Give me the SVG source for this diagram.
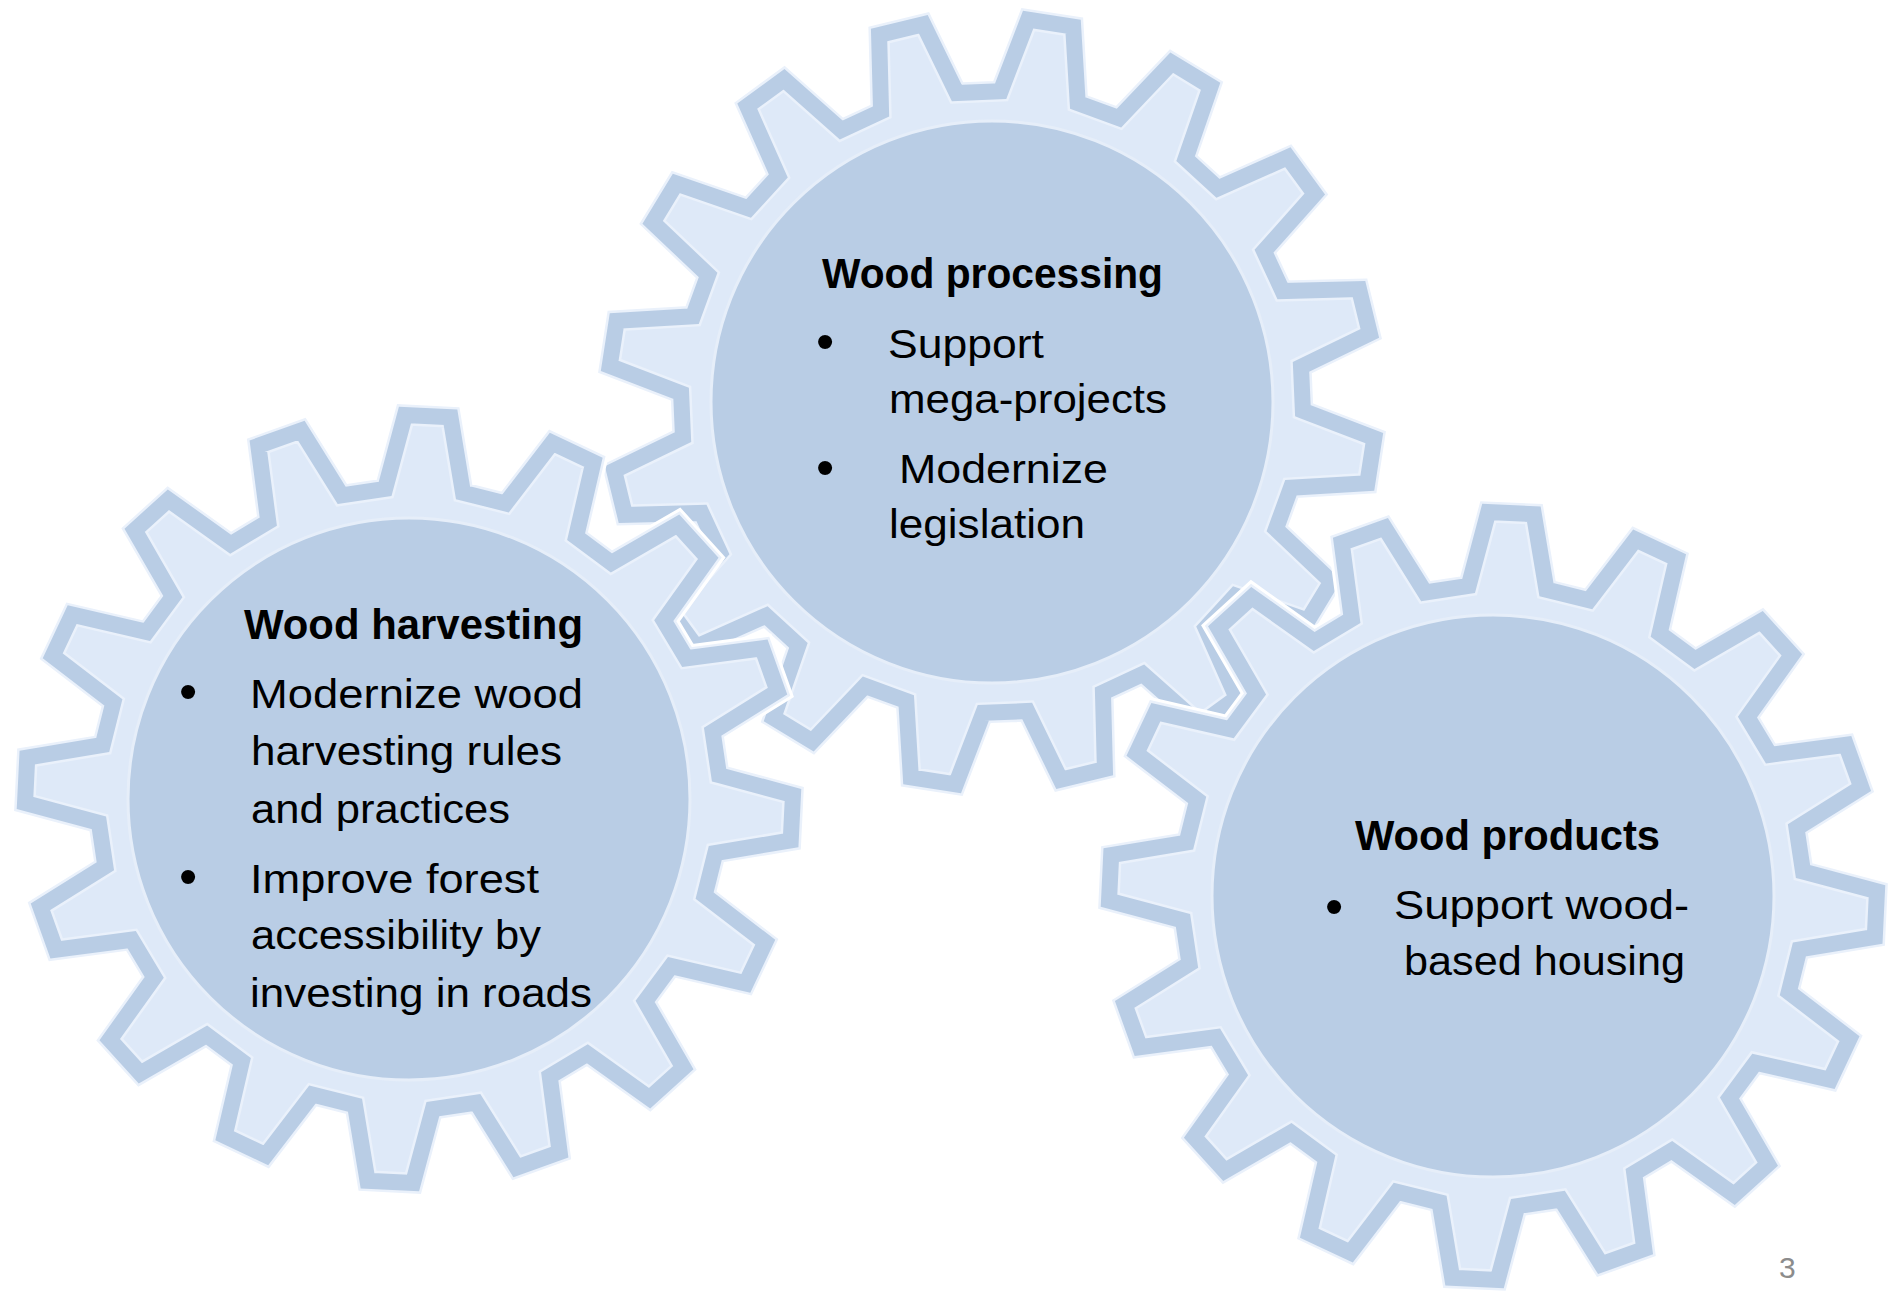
<svg xmlns="http://www.w3.org/2000/svg" xmlns:xlink="http://www.w3.org/1999/xlink" width="1892" height="1291" viewBox="0 0 1892 1291">
<style>
.halo{fill:none;stroke:#ffffff;stroke-width:27;stroke-linejoin:miter}
.rim{fill:#dee9f8;stroke:#eaf1fb;stroke-width:21;stroke-linejoin:miter}
.band{fill:none;stroke:#b9cde5;stroke-width:16;stroke-linejoin:miter}
.hub{fill:#b9cde5;stroke:#e6eef9;stroke-width:3}
.h{font-family:"Liberation Sans",Arial,sans-serif;font-weight:bold;font-size:42px;fill:#000000}
.t{font-family:"Liberation Sans",Arial,sans-serif;font-size:41px;fill:#000000}
.bu{font-family:"Liberation Sans",Arial,sans-serif;font-size:52px;fill:#000000}
.pg{font-family:"Liberation Sans",Arial,sans-serif;font-size:30px;fill:#8c8c8c}
</style>
<defs>
<path id="gear" d="M308.55,-38.98 L383.32,-22.78 L383.32,22.78 L308.55,38.98 L299.98,82.06 L362.86,125.65 L345.43,167.73 L270.14,154.09 L245.74,190.62 L287.16,254.95 L254.95,287.16 L190.62,245.74 L154.09,270.14 L167.73,345.43 L125.65,362.86 L82.06,299.98 L38.98,308.55 L22.78,383.32 L-22.78,383.32 L-38.98,308.55 L-82.06,299.98 L-125.65,362.86 L-167.73,345.43 L-154.09,270.14 L-190.62,245.74 L-254.95,287.16 L-287.16,254.95 L-245.74,190.62 L-270.14,154.09 L-345.43,167.73 L-362.86,125.65 L-299.98,82.06 L-308.55,38.98 L-383.32,22.78 L-383.32,-22.78 L-308.55,-38.98 L-299.98,-82.06 L-362.86,-125.65 L-345.43,-167.73 L-270.14,-154.09 L-245.74,-190.62 L-287.16,-254.95 L-254.95,-287.16 L-190.62,-245.74 L-154.09,-270.14 L-167.73,-345.43 L-125.65,-362.86 L-82.06,-299.98 L-38.98,-308.55 L-22.78,-383.32 L22.78,-383.32 L38.98,-308.55 L82.06,-299.98 L125.65,-362.86 L167.73,-345.43 L154.09,-270.14 L190.62,-245.74 L254.95,-287.16 L287.16,-254.95 L245.74,-190.62 L270.14,-154.09 L345.43,-167.73 L362.86,-125.65 L299.98,-82.06 Z"/>
</defs>
<rect x="0" y="0" width="1892" height="1291" fill="#ffffff"/>

<g id="node-wood-processing">
<g transform="translate(992,402) rotate(8.8)">
<use xlink:href="#gear" href="#gear" class="halo"/>
<use xlink:href="#gear" href="#gear" class="rim"/>
<use xlink:href="#gear" href="#gear" class="band"/>
</g>
<circle class="hub" cx="992" cy="402" r="281"/>
<text class="h" x="822" y="288" textLength="341" lengthAdjust="spacingAndGlyphs">Wood processing</text>
<text class="bu" x="816" y="359">•</text>
<text class="t" x="888" y="358" textLength="156" lengthAdjust="spacingAndGlyphs">Support</text>
<text class="t" x="889" y="413" textLength="278" lengthAdjust="spacingAndGlyphs">mega-projects</text>
<text class="bu" x="816" y="485">•</text>
<text class="t" x="899" y="483" textLength="209" lengthAdjust="spacingAndGlyphs">Modernize</text>
<text class="t" x="889" y="538" textLength="196" lengthAdjust="spacingAndGlyphs">legislation</text>
</g>

<g id="node-wood-harvesting">
<g transform="translate(409,799) rotate(2.8)">
<use xlink:href="#gear" href="#gear" class="halo"/>
<use xlink:href="#gear" href="#gear" class="rim"/>
<use xlink:href="#gear" href="#gear" class="band"/>
</g>
<circle class="hub" cx="409" cy="799" r="281"/>
<text class="h" x="244" y="639" textLength="339" lengthAdjust="spacingAndGlyphs">Wood harvesting</text>
<text class="bu" x="179" y="709">•</text>
<text class="t" x="250" y="708" textLength="333" lengthAdjust="spacingAndGlyphs">Modernize wood</text>
<text class="t" x="251" y="765" textLength="311" lengthAdjust="spacingAndGlyphs">harvesting rules</text>
<text class="t" x="251" y="823" textLength="259" lengthAdjust="spacingAndGlyphs">and practices</text>
<text class="bu" x="179" y="894">•</text>
<text class="t" x="250" y="893" textLength="289" lengthAdjust="spacingAndGlyphs">Improve forest</text>
<text class="t" x="251" y="949" textLength="290" lengthAdjust="spacingAndGlyphs">accessibility by</text>
<text class="t" x="250" y="1007" textLength="342" lengthAdjust="spacingAndGlyphs">investing in roads</text>
</g>

<g id="node-wood-products">
<g transform="translate(1493,896) rotate(2.7)">
<use xlink:href="#gear" href="#gear" class="halo"/>
<use xlink:href="#gear" href="#gear" class="rim"/>
<use xlink:href="#gear" href="#gear" class="band"/>
</g>
<circle class="hub" cx="1493" cy="896" r="281"/>
<text class="h" x="1355" y="850" textLength="305" lengthAdjust="spacingAndGlyphs">Wood products</text>
<text class="bu" x="1325" y="924">•</text>
<text class="t" x="1394" y="919" textLength="295" lengthAdjust="spacingAndGlyphs">Support wood-</text>
<text class="t" x="1404" y="975" textLength="281" lengthAdjust="spacingAndGlyphs">based housing</text>
</g>

<g id="connectors"></g>

<text class="pg" x="1779" y="1278">3</text>
</svg>
